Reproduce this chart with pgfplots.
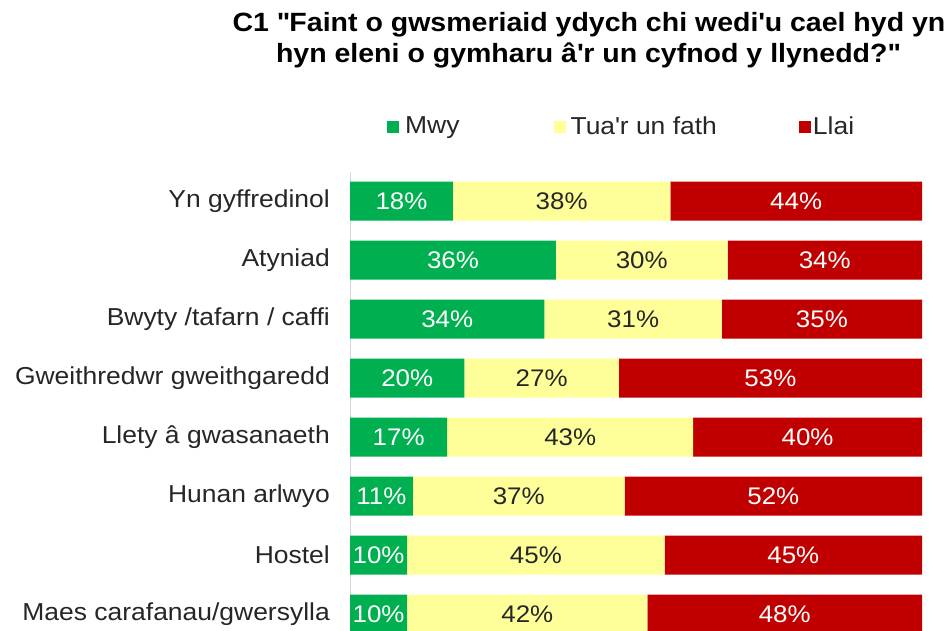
\documentclass[border=0pt]{standalone}
\usepackage{pgfplots}
\pgfplotsset{compat=1.18}
\usepackage{pgfplotstable}
\usepackage{fontspec}
\setmainfont{Liberation Sans}[FakeStretch=1.08]
\definecolor{cgreen}{HTML}{00B050}
\definecolor{cyellow}{HTML}{FFFF99}
\definecolor{cred}{HTML}{C00000}
\definecolor{ctext}{HTML}{262626}
\definecolor{caxis}{HTML}{D9D9D9}
\newcommand{\q}{\textquotesingle}

\pgfplotstableread{
idx mwy tua llai
7 18 38 44
6 36 30 34
5 34 31 35
4 20 27 53
3 17 43 40
2 11 37 52
1 10 45 45
0 10 42 48
}\data

\begin{document}
\begin{tikzpicture}[x=1pt,y=1pt]
\path[use as bounding box] (0,0) rectangle (952,630);
\node[anchor=base, inner sep=0pt, font=\fontsize{26.4}{31}\selectfont\bfseries, text=black] at (589,598) {C1 \textquotedbl Faint o gwsmeriaid ydych chi wedi\q u cael hyd yn};
\node[anchor=base, inner sep=0pt, font=\fontsize{26.4}{31}\selectfont\bfseries, text=black] at (588,567) {hyn eleni o gymharu â\q r un cyfnod y llynedd?\textquotedbl};
\begin{axis}[
  at={(350pt,-13.5pt)}, anchor=south west,
  scale only axis, width=572pt, height=472pt,
  xbar stacked, bar width=39pt,
  xmin=0, xmax=100, ymin=-0.5, ymax=7.5,
  axis x line=none, axis y line*=left,
  y axis line style={draw=caxis, line width=1pt},
  ytick={0,...,7},
  yticklabels={Maes carafanau/gwersylla, Hostel, Hunan arlwyo, Llety â gwasanaeth, Gweithredwr gweithgaredd, Bwyty /tafarn / caffi, Atyniad, Yn gyffredinol},
  major tick length=0pt,
  yticklabel style={inner sep=0pt, xshift=-20pt, font=\fontsize{24.5}{29}\selectfont, text=ctext},
  legend columns=3,
  legend style={at={(axis description cs:0.0647,1.0964)}, anchor=west, draw=none, fill=none, inner sep=0pt,
    font=\fontsize{24.5}{29}\selectfont, text=ctext, nodes={inner sep=0pt},
    /tikz/column 1/.style={column sep=6pt},
    /tikz/column 2/.style={column sep=94pt},
    /tikz/column 3/.style={column sep=5pt},
    /tikz/column 4/.style={column sep=82pt},
    /tikz/column 5/.style={column sep=2pt}},
  legend image code/.code={\fill[#1, draw=none] (0pt,-7pt) rectangle (12pt,5pt);},
  visualization depends on={rawx \as \myval},
  nodes near coords={\pgfmathprintnumber[fixed, precision=0, assume math mode=true]{\myval}\%},
  nodes near coords style={font=\fontsize{24}{28}\selectfont, anchor=center},
]
\addplot[fill=cgreen, draw=none, every node near coord/.append style={text=white}]
  table[x=mwy, y=idx]{\data};
\addlegendentry{Mwy}
\addplot[fill=cyellow, draw=none, every node near coord/.append style={text=ctext}]
  table[x=tua, y=idx]{\data};
\addlegendentry{Tua\q r un fath}
\addplot[fill=cred, draw=none, every node near coord/.append style={text=white}]
  table[x=llai, y=idx]{\data};
\addlegendentry{Llai}
\end{axis}
\end{tikzpicture}
\end{document}
